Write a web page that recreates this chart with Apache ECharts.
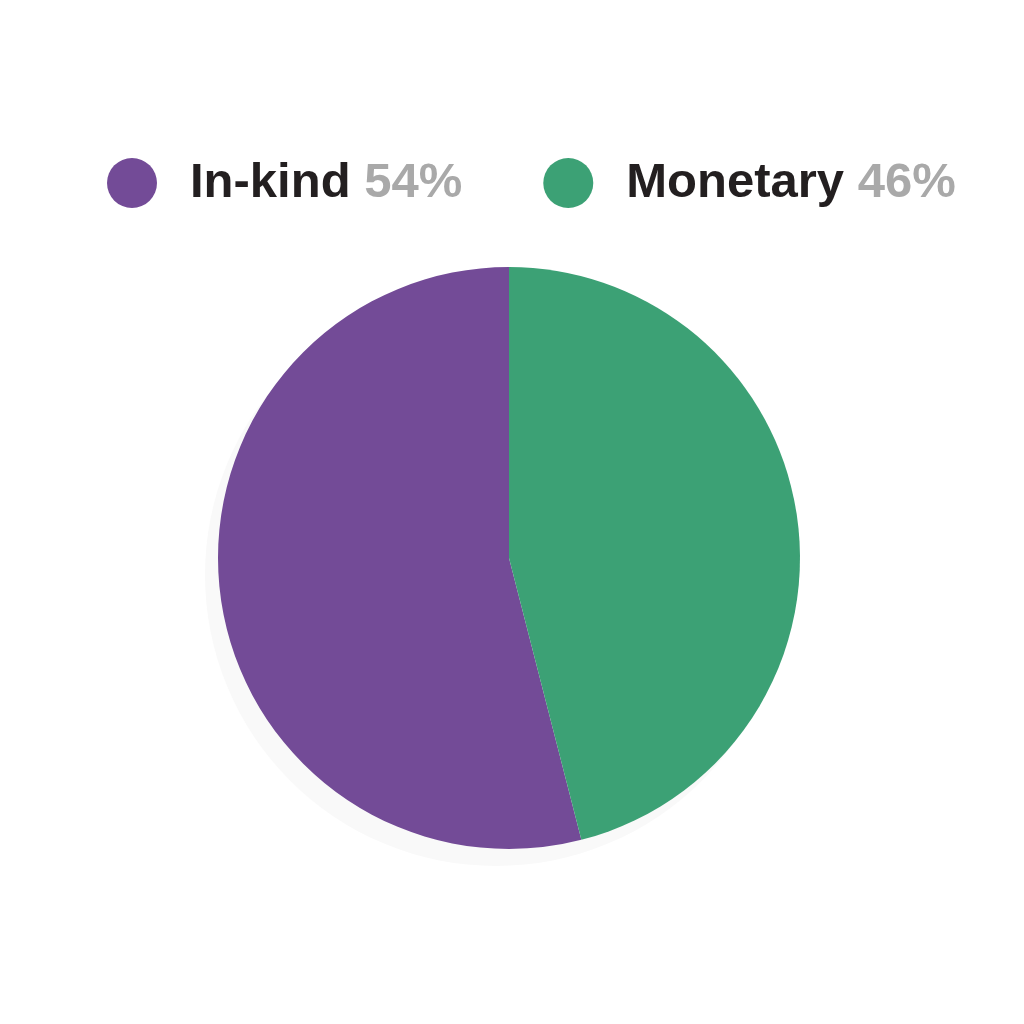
<!DOCTYPE html>
<html>
<head>
<meta charset="utf-8">
<script src="https://cdn.jsdelivr.net/npm/echarts@6/dist/echarts.min.js"></script>
<style>html,body{margin:0;padding:0;background:#fff;}#c{width:1024px;height:1024px;}</style>
</head>
<body>
<div id="c"></div>
<script>
const categories = ['In-kind', 'Monetary'];
const values = [54, 46];
const colors = ['#734b97', '#3ca175'];

const chart = echarts.init(document.getElementById('c'));
const total = values.reduce((a, b) => a + b, 0);
const pctOf = {};
categories.forEach((c, i) => { pctOf[c] = Math.round(values[i] / total * 100); });

chart.setOption({
  animation: false,
  backgroundColor: '#ffffff',
  legend: {
    data: categories,
    left: 107,
    top: 158,
    padding: 0,
    icon: 'circle',
    itemWidth: 50,
    itemHeight: 50,
    itemGap: 81,
    selectedMode: false,
    formatter: name => `{n|${name}} {p|${pctOf[name]}%}`,
    textStyle: {
      fontFamily: 'Liberation Sans',
      fontSize: 49,
      rich: {
        n: { fontFamily: 'Liberation Sans', fontSize: 49, fontWeight: 'bold', color: '#231f20', padding: [0, 0, 0, 28] },
        p: { fontFamily: 'Liberation Sans', fontSize: 49, fontWeight: 'bold', color: '#a9a9a9' }
      }
    }
  },
  series: [
    {
      name: 'shadow',
      type: 'pie',
      silent: true,
      z: 1,
      center: [496, 575],
      radius: 291,
      label: { show: false },
      labelLine: { show: false },
      itemStyle: { color: '#f9f9f9' },
      data: [{ name: 'shadow', value: total }]
    },
    {
      name: 'Share',
      type: 'pie',
      z: 2,
      center: [509, 558],
      radius: 291,
      startAngle: 90,
      clockwise: false,
      label: { show: false },
      labelLine: { show: false },
      emphasis: { disabled: true },
      itemStyle: { borderWidth: 0 },
      data: categories.map((c, i) => ({ name: c, value: values[i], itemStyle: { color: colors[i] } }))
    }
  ]
});
</script>
</body>
</html>
